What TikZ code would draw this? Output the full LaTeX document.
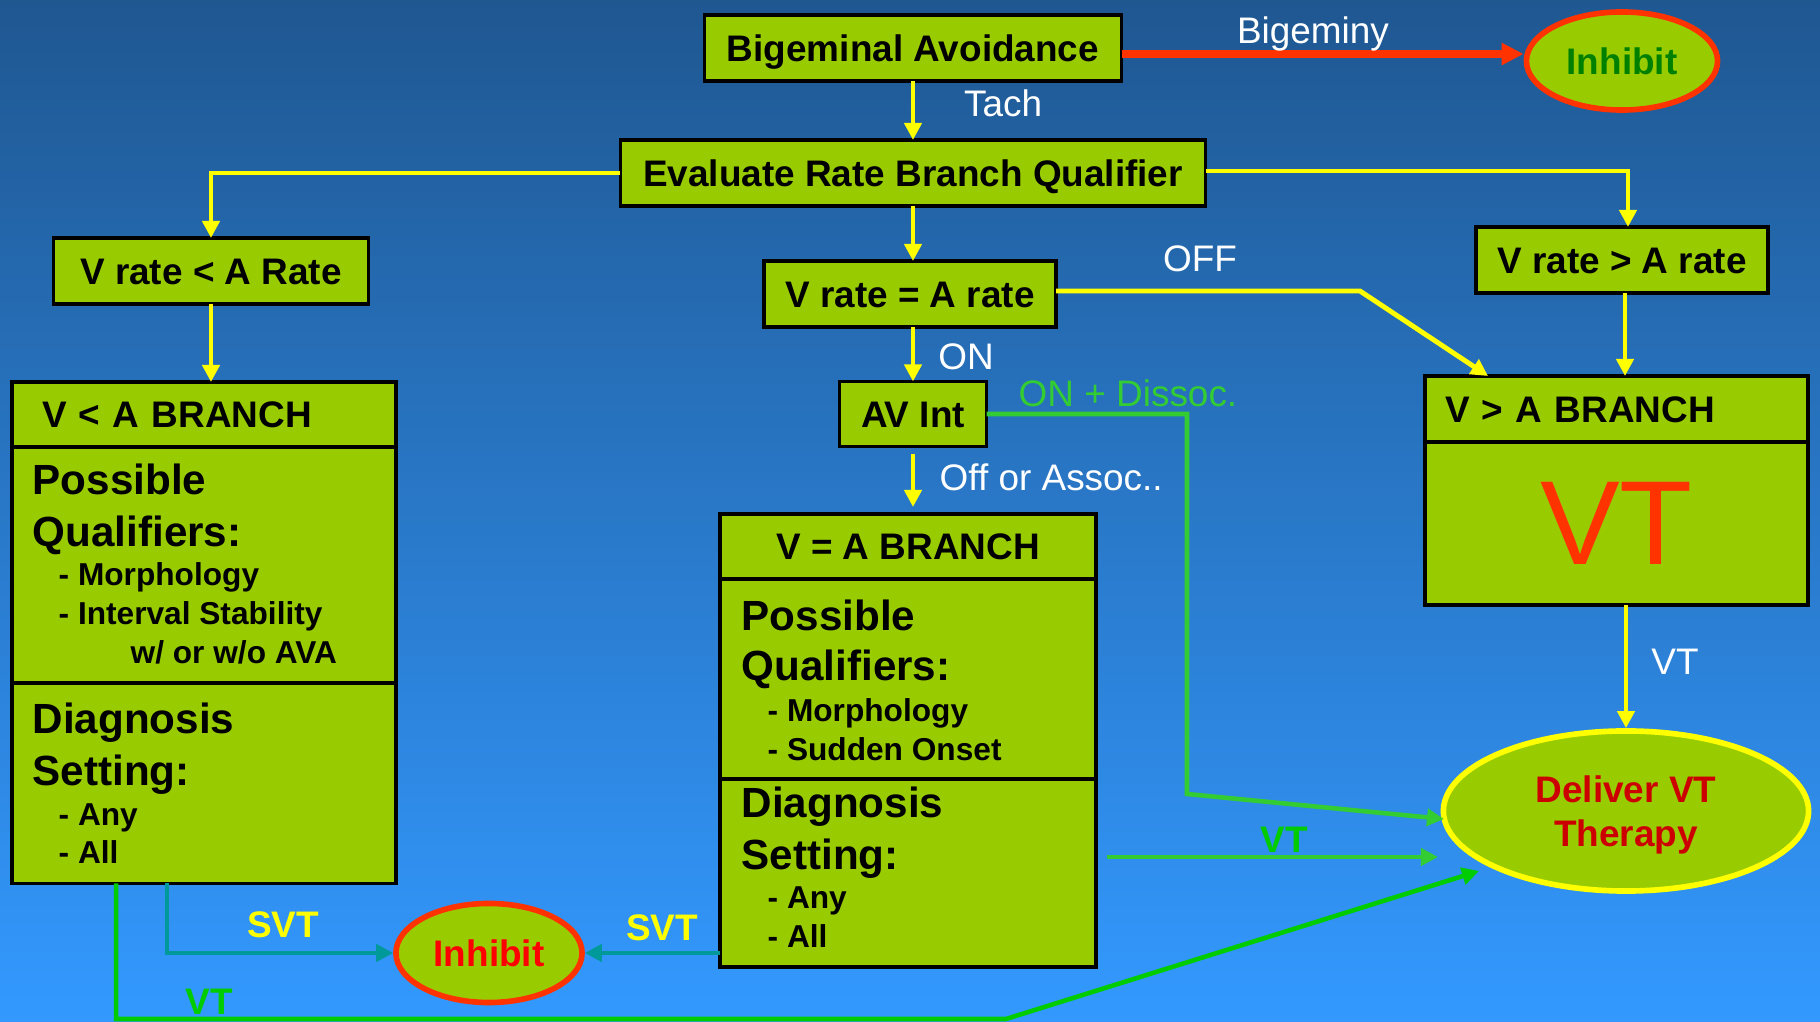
\documentclass[tikz,border=0pt]{standalone}
\usepackage{fontspec}
\setmainfont{Liberation Sans}
\usetikzlibrary{arrows.meta,shapes.geometric}
\definecolor{bgTop}{RGB}{31,87,145}
\definecolor{bgBottom}{RGB}{51,153,255}
\definecolor{boxGreen}{RGB}{153,204,0}
\definecolor{lineYellow}{RGB}{255,255,0}
\definecolor{lineRed}{RGB}{255,51,0}
\definecolor{lineGreen}{RGB}{51,204,51}
\definecolor{lineDarkGreen}{RGB}{0,204,0}
\definecolor{lineTeal}{RGB}{0,153,153}
\definecolor{textGreen}{RGB}{0,128,0}
\definecolor{textRed}{RGB}{255,0,0}
\definecolor{textDarkRed}{RGB}{204,0,0}

\begin{document}
\begin{tikzpicture}[x=0.01cm, y=-0.01cm,
    box/.style={draw=black, line width=1pt, fill=boxGreen, inner sep=0pt, outer sep=0pt,
      font=\bfseries\fontsize{10.5}{12}\selectfont, text height=7.5pt, text depth=0pt},
    panel/.style={draw=black, line width=1pt, fill=boxGreen, outer sep=0pt, minimum width=3.84cm},
    oval/.style={ellipse, line width=1.6pt, fill=boxGreen, inner sep=0pt,
      font=\bfseries\fontsize{10.5}{12.5}\selectfont, align=center},
    lineBig/.style={anchor=west, inner sep=0pt, font=\bfseries\fontsize{12}{14}\selectfont,
      text height=8.6pt, text depth=0pt},
    lineSmall/.style={anchor=west, inner sep=0pt, font=\bfseries\fontsize{9}{11}\selectfont,
      text height=6.4pt, text depth=0pt},
    lbl/.style={inner sep=0pt, text=white, font=\fontsize{10.5}{12}\selectfont,
      text height=7.5pt, text depth=0pt},
    boldlbl/.style={lbl, font=\bfseries\fontsize{10.5}{12}\selectfont},
    yel/.style={draw=lineYellow, line width=1.4pt, -{Triangle[length=0.17cm, width=0.17cm]}},
    grn/.style={draw=lineGreen, line width=1.3pt, -{Triangle[length=0.17cm, width=0.17cm]}},
    teal/.style={draw=lineTeal, line width=1.3pt, -{Triangle[length=0.17cm, width=0.17cm]}}]
  \shade[top color=bgTop, bottom color=bgBottom] (0,0) rectangle (1820,1022);

  \node[box, minimum width=4.17cm, minimum height=0.66cm] (bigem) at (913,48) {Bigeminal Avoidance};
  \node[oval, draw=lineRed, minimum width=1.91cm, minimum height=0.98cm, text=textGreen] (inhibTop) at (1622,61) {Inhibit};
  \node[box, minimum width=5.85cm, minimum height=0.66cm] (eval) at (913,173) {Evaluate Rate Branch Qualifier};
  \node[box, minimum width=3.15cm, minimum height=0.66cm] (vlt) at (211,271) {V rate < A Rate};
  \node[box, minimum width=2.92cm, minimum height=0.66cm] (veq) at (910,294) {V rate = A rate};
  \node[box, minimum width=2.92cm, minimum height=0.66cm] (vgt) at (1622,260) {V rate > A rate};
  \node[box, minimum width=1.47cm, minimum height=0.65cm] (avint) at (913,414) {AV Int};

  \node[box, anchor=north west, minimum height=0.65cm, text width=3.24cm, inner xsep=0.3cm] (vltHead) at (12,382) {V < A BRANCH};
  \node[panel, anchor=north, minimum height=2.36cm] (vltQual) at (vltHead.south) {};
  \node[panel, anchor=north, minimum height=2.0cm] (vltDiag) at (vltQual.south) {};
  \node[lineBig] (vltPos) at (32,479) {Possible};
  \node[lineBig] (vltQua) at (32,531) {Qualifiers:};
  \node[lineSmall] (vltMor) at (58,574) {- Morphology};
  \node[lineSmall] (vltInt) at (58,613) {- Interval Stability};
  \node[lineSmall] (vltAva) at (130,652) {w/ or w/o AVA};
  \node[lineBig] (vltDia) at (32,718) {Diagnosis};
  \node[lineBig] (vltSet) at (32,770) {Setting:};
  \node[lineSmall] (vltAny) at (58,814) {- Any};
  \node[lineSmall] (vltAll) at (58,852) {- All};

  \node[box, anchor=north west, minimum width=3.76cm, minimum height=0.65cm] (veqHead) at (720,514) {V = A BRANCH};
  \node[panel, anchor=north, minimum width=3.76cm, minimum height=2.0cm] (veqQual) at (veqHead.south) {};
  \node[panel, anchor=north, minimum width=3.76cm, minimum height=1.88cm] (veqDiag) at (veqQual.south) {};
  \node[lineBig] (veqPos) at (741,615) {Possible};
  \node[lineBig] (veqQua) at (741,665) {Qualifiers:};
  \node[lineSmall] (veqMor) at (767,710) {- Morphology};
  \node[lineSmall] (veqSud) at (767,749) {- Sudden Onset};
  \node[lineBig] (veqDia) at (741,802) {Diagnosis};
  \node[lineBig] (veqSet) at (741,854) {Setting:};
  \node[lineSmall] (veqAny) at (767,897) {- Any};
  \node[lineSmall] (veqAll) at (767,936) {- All};

  \node[box, anchor=north west, minimum height=0.66cm, text width=3.43cm, inner xsep=0.2cm] (vgtHead) at (1425,376) {V > A BRANCH};
  \node[panel, anchor=north, minimum width=3.83cm, minimum height=1.63cm, text=lineRed,
    font=\fontsize{34}{36}\selectfont] (vgtBody) at (vgtHead.south) {VT};

  \node[oval, draw=lineYellow, minimum width=3.65cm, minimum height=1.6cm, text=textDarkRed,
    text depth=0pt] (deliver) at (1626,811) {Deliver VT\\Therapy};
  \node[oval, draw=lineRed, minimum width=1.86cm, minimum height=0.99cm, text=textRed] (inhibBot) at (489,953) {Inhibit};

  \coordinate (offBend) at (1360,291);
  \coordinate (dissocBend) at (1187,794);
  \coordinate (dissocEnd) at (1444,819);
  \coordinate (vtMid) at (1438,857);
  \coordinate (lowBend) at (1006,1019);
  \coordinate (vtLow) at (1479,871);

  \draw[lineRed, line width=2pt, -{Triangle[length=0.22cm, width=0.21cm]}]
    ([yshift=-0.06cm]bigem.east) -- ([yshift=-0.06cm]bigem.east -| inhibTop.west);
  \draw[yel] (bigem.south) -- (eval.north);
  \draw[yel] (eval.west) -| (vlt.north);
  \draw[yel] ([yshift=0.02cm]eval.east) -| ([xshift=0.06cm]vgt.north);
  \draw[yel] (eval.south) -- (eval.south |- veq.north);
  \draw[yel] (vlt.south) -- (vlt.south |- vltHead.north);
  \draw[yel] ([yshift=0.03cm]veq.east) -- (offBend) -- ([xshift=0.63cm]vgtHead.north west);
  \draw[yel] ([xshift=0.03cm]vgt.south) -- ([xshift=0.03cm]vgt.south |- vgtHead.north);
  \draw[yel] (veq.south -| avint.north) -- (avint.north);
  \draw[yel, shorten <=0.07cm, shorten >=0.07cm] (avint.south) -- (avint.south |- veqHead.north);
  \draw[yel] (vgtBody.south -| deliver.north) -- (deliver.north);

  \draw[grn] (avint.east) -| (dissocBend) -- (dissocEnd);
  \draw[grn] ([xshift=0.11cm]veqDiag.east |- vtMid) -- (vtMid);
  \draw[draw=lineDarkGreen, line width=1.3pt, -{Triangle[length=0.17cm, width=0.17cm]}]
    ([xshift=1.04cm]vltDiag.south west) |- (lowBend) -- (vtLow);
  \draw[teal] ([xshift=1.55cm]vltDiag.south west) |- (inhibBot.west);
  \draw[teal] (veqDiag.west |- inhibBot.east) -- (inhibBot.east);

  \node[lbl] (lblBigeminy) at (1313,30) {Bigeminy};
  \node[lbl] (lblTach) at (1003,103) {Tach};
  \node[lbl] (lblOff) at (1200,258) {OFF};
  \node[lbl] (lblOn) at (966,356) {ON};
  \node[lbl, text=lineGreen] (lblDissoc) at (1128,393) {ON + Dissoc.};
  \node[lbl, anchor=west] (lblAssoc) at (939,477) {Off or Assoc..};
  \node[lbl] (lblVt) at (1675,661) {VT};
  \node[boldlbl, text=lineDarkGreen] (lblVtMid) at (1284,839) {VT};
  \node[boldlbl, text=lineDarkGreen] (lblVtLow) at (209,1001) {VT};
  \node[boldlbl, text=lineYellow] (lblSvtLeft) at (283,924) {SVT};
  \node[boldlbl, text=lineYellow] (lblSvtRight) at (662,927) {SVT};
\end{tikzpicture}
\end{document}
